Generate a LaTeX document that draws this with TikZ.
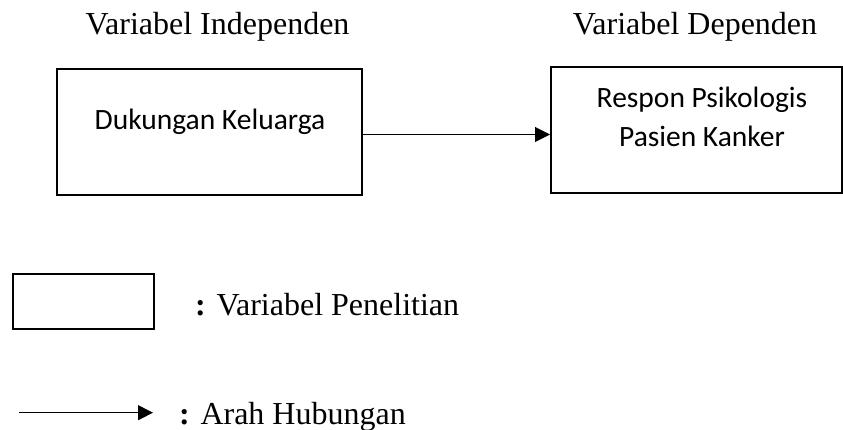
\documentclass[tikz,border=0pt]{standalone}
\usepackage{fontspec}
\setmainfont{Liberation Serif}
\newfontfamily\boxfont{Carlito}
\usetikzlibrary{arrows.meta}
\begin{document}
\begin{tikzpicture}[x=1pt,y=-1pt,
  varbox/.style={draw, line width=2pt, inner sep=0pt},
  head/.style={font=\fontsize{32}{38}\selectfont, anchor=base, inner sep=0pt},
  boxtext/.style={font=\boxfont\fontsize{29.5}{39}\selectfont, anchor=base, inner sep=0pt},
  link/.style={line width=1pt, -{Triangle[length=15pt,width=15pt]}},
  legend/.style={font=\fontsize{32}{38}\selectfont, anchor=base west, inner sep=0pt}]
\useasboundingbox (0,0) rectangle (843,430);
% headings
\node[head] (hi) at (217.5,35) {Variabel Independen};
\node[head] (hd) at (695,35) {Variabel Dependen};
% variable boxes
\node[varbox, minimum width=305pt, minimum height=126pt] (ind) at (209.5,132) {};
\node[varbox, minimum width=291pt, minimum height=126pt] (dep) at (696.5,130) {};
\node[boxtext] (t1) at (210,130) {Dukungan Keluarga};
\node[boxtext] (t2) at (702,108) {Respon Psikologis};
\node[boxtext] (t3) at (702,147) {Pasien Kanker};
% relation arrow
\coordinate (arr) at (0,134.5);
\draw[link] (ind.east |- arr) -- (dep.west |- arr);
% legend
\node[varbox, minimum width=141pt, minimum height=55pt] (lbox) at (83.3,301.5) {};
\node[legend] (lt1) at (195,315) {\textbf{:} Variabel Penelitian};
\coordinate (la) at (19,412.7);
\coordinate (lb) at (153,412.7);
\draw[link] (la) -- (lb);
\node[legend] (lt2) at (179,424) {\textbf{:} Arah Hubungan};
\end{tikzpicture}
\end{document}
